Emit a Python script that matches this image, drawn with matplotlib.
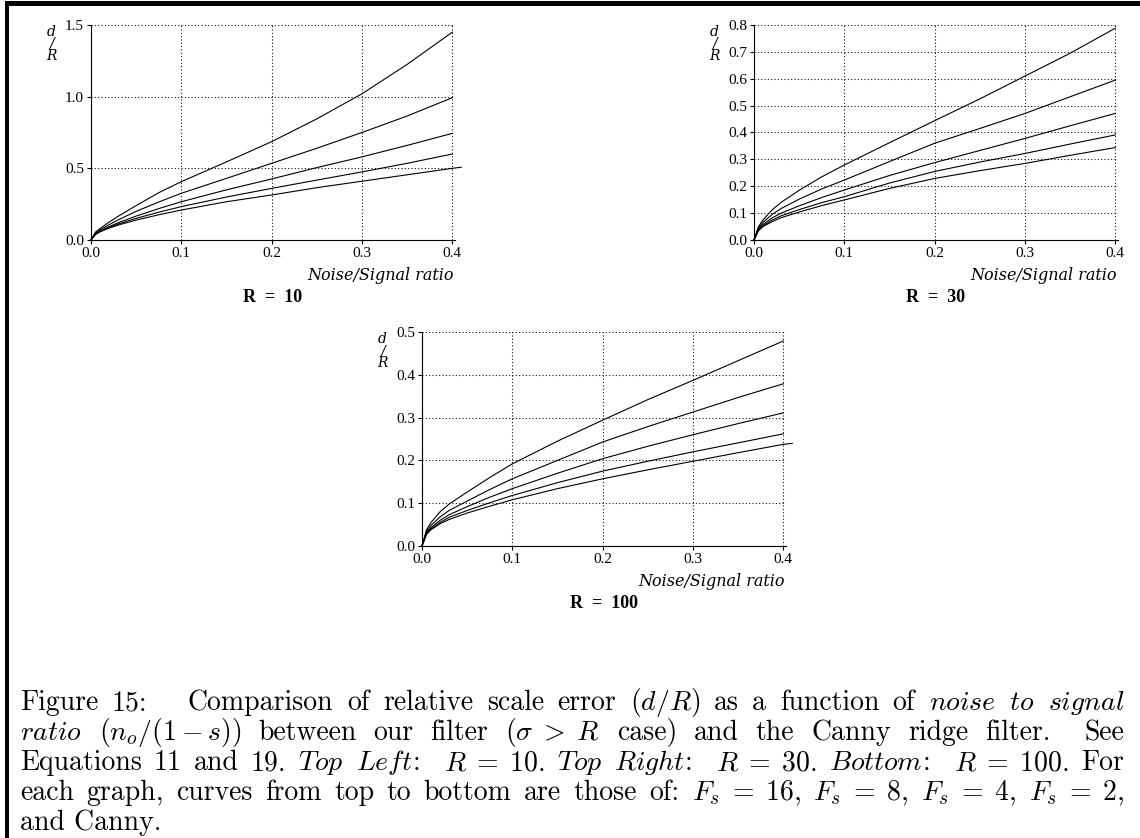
import matplotlib
matplotlib.use('Agg')
import matplotlib.pyplot as plt
from matplotlib.patches import Rectangle
import numpy as np

plt.rcParams['font.family'] = 'Liberation Serif'
plt.rcParams['mathtext.fontset'] = 'cm'

# noise/signal ratio sample points (Canny curve runs a bit past the frame)
noise = [0, 0.005, 0.01, 0.02, 0.03, 0.05, 0.075, 0.1, 0.15, 0.2, 0.25, 0.3, 0.35, 0.4]
noise_ext = noise + [0.41]

# R = 10, curves top to bottom: Fs=16, 8, 4, 2, Canny
r10_fs16 = [0, 0.055, 0.08, 0.125, 0.165, 0.24, 0.33, 0.407, 0.545, 0.686, 0.845, 1.02, 1.225, 1.45]
r10_fs8 = [0, 0.048, 0.07, 0.107, 0.14, 0.2, 0.265, 0.326, 0.43, 0.535, 0.64, 0.75, 0.865, 0.993]
r10_fs4 = [0, 0.042, 0.062, 0.093, 0.12, 0.167, 0.219, 0.267, 0.35, 0.426, 0.505, 0.58, 0.66, 0.744]
r10_fs2 = [0, 0.04, 0.059, 0.088, 0.111, 0.151, 0.194, 0.233, 0.3, 0.36, 0.418, 0.475, 0.535, 0.6]
r10_canny = [0, 0.039, 0.057, 0.083, 0.104, 0.139, 0.176, 0.209, 0.267, 0.314, 0.365, 0.41, 0.455, 0.5, 0.508]

# R = 30
r30_fs16 = [0, 0.05, 0.075, 0.112, 0.14, 0.185, 0.235, 0.279, 0.362, 0.444, 0.525, 0.61, 0.695, 0.788]
r30_fs8 = [0, 0.045, 0.066, 0.095, 0.117, 0.152, 0.19, 0.223, 0.292, 0.36, 0.415, 0.471, 0.533, 0.595]
r30_fs4 = [0, 0.04, 0.058, 0.082, 0.1, 0.127, 0.158, 0.186, 0.24, 0.288, 0.333, 0.378, 0.425, 0.471]
r30_fs2 = [0, 0.037, 0.053, 0.074, 0.09, 0.113, 0.139, 0.161, 0.212, 0.255, 0.29, 0.322, 0.357, 0.391]
r30_canny = [0, 0.035, 0.05, 0.068, 0.083, 0.104, 0.128, 0.149, 0.192, 0.229, 0.258, 0.285, 0.315, 0.344]

# R = 100
r100_fs16 = [0, 0.038, 0.055, 0.08, 0.098, 0.126, 0.16, 0.192, 0.245, 0.294, 0.342, 0.387, 0.433, 0.479]
r100_fs8 = [0, 0.034, 0.048, 0.068, 0.083, 0.105, 0.132, 0.157, 0.2, 0.243, 0.279, 0.313, 0.347, 0.379]
r100_fs4 = [0, 0.031, 0.043, 0.06, 0.073, 0.092, 0.114, 0.134, 0.17, 0.204, 0.233, 0.26, 0.286, 0.311]
r100_fs2 = [0, 0.029, 0.04, 0.055, 0.067, 0.083, 0.101, 0.118, 0.148, 0.175, 0.198, 0.22, 0.241, 0.262]
r100_canny = [0, 0.027, 0.038, 0.052, 0.062, 0.077, 0.093, 0.108, 0.134, 0.157, 0.178, 0.198, 0.218, 0.2375, 0.24]

x_ticks = [0.0, 0.1, 0.2, 0.3, 0.4]
r10_yticks = [0.0, 0.5, 1.0, 1.5]
r30_yticks = [0.0, 0.1, 0.2, 0.3, 0.4, 0.5, 0.6, 0.7, 0.8]
r100_yticks = [0.0, 0.1, 0.2, 0.3, 0.4, 0.5]

caption_lines = [
    ["Figure", "15:", "", "", "Comparison", "of", "relative", "scale", "error", r"$(d/R)$", "as", "a",
     "function", "of", r"$\mathit{noise}$", r"$\mathit{to}$", r"$\mathit{signal}$"],
    [r"$\mathit{ratio}$", r"$(n_o/(1-s))$", "between", "our", "filter", r"$(\sigma\;>\;R$", "case)",
     "and", "the", "Canny", "ridge", "filter.", "", "See"],
    ["Equations", "11", "and", "19.", r"$\mathit{Top}$", r"$\mathit{Left\!:}$", "", r"$R\;=\;10$.",
     r"$\mathit{Top}$", r"$\mathit{Right\!:}$", "", r"$R\;=\;30$.", r"$\mathit{Bottom\!:}$", "",
     r"$R\;=\;100$.", "For"],
    ["each", "graph,", "curves", "from", "top", "to", "bottom", "are", "those", "of:",
     r"$F_s\;=\;16$,", r"$F_s\;=\;8$,", r"$F_s\;=\;4$,", r"$F_s\;=\;2$,"],
    ["and Canny."],
]

W, H = 1140, 838
fig = plt.figure(figsize=(W / 100, H / 100), dpi=100)


def box(l, t, r, b):
    return [l / W, 1 - b / H, (r - l) / W, (b - t) / H]


def panel(rect, xs, curves, yticks, title):
    ax = fig.add_axes(rect)
    for x, y in zip(xs, curves):
        ax.plot(x, y, color='black', lw=0.8, clip_on=False)
    ax.set_xlim(0, 0.403)
    ax.set_ylim(0, yticks[-1])
    ax.set_xticks(x_ticks)
    ax.set_xticklabels(['%.1f' % v for v in x_ticks])
    ax.set_yticks(yticks)
    ax.set_yticklabels(['%.1f' % v for v in yticks])
    ax.grid(True, color='black', lw=0.75, linestyle=(0, (1, 2.2)))
    ax.set_axisbelow(True)
    for s in ['top', 'right']:
        ax.spines[s].set_visible(False)
    for s in ['left', 'bottom']:
        ax.spines[s].set_linewidth(0.8)
    ax.tick_params(direction='out', length=3, width=0.8, labelsize=11, pad=2)
    ax.annotate('Noise/Signal ratio', xy=(1, 0), xycoords='axes fraction',
                xytext=(-1, -35 * 0.72), textcoords='offset points',
                ha='right', va='center', fontsize=11.5, style='italic', family='DejaVu Serif')
    ax.annotate(title, xy=(0.5, 0), xycoords='axes fraction',
                xytext=(0, -58 * 0.72), textcoords='offset points',
                ha='center', va='center', fontsize=13, fontweight='bold')
    for ch, dy in [('d', -7), ('/', -19), ('R', -31)]:
        ax.annotate(ch, xy=(0, 1), xycoords='axes fraction',
                    xytext=(-40 * 0.72, dy * 0.72), textcoords='offset points',
                    ha='center', va='center', fontsize=10, style='italic', family='DejaVu Serif')
    return ax


panel(box(91, 25, 455, 240), [noise, noise, noise, noise, noise_ext],
      [r10_fs16, r10_fs8, r10_fs4, r10_fs2, r10_canny], r10_yticks, 'R  =  10')
panel(box(754, 25, 1118, 240), [noise] * 5,
      [r30_fs16, r30_fs8, r30_fs4, r30_fs2, r30_canny], r30_yticks, 'R  =  30')
panel(box(422, 332, 786, 546), [noise, noise, noise, noise, noise_ext],
      [r100_fs16, r100_fs8, r100_fs4, r100_fs2, r100_canny], r100_yticks, 'R  =  100')

# page frame (top and left edge of the scanned box)
fig.add_artist(Rectangle((5 / W, 1 - 6 / H), 1, 5 / H, transform=fig.transFigure,
                         color='black', lw=0))
fig.add_artist(Rectangle((5 / W, 0), 4 / W, 1 - 1 / H, transform=fig.transFigure,
                         color='black', lw=0))

# justified caption
fig.canvas.draw()
renderer = fig.canvas.get_renderer()
cap_left, cap_right = 20, 1124
baselines = [710, 740, 770, 800, 830]
for i, tokens in enumerate(caption_lines):
    yb = 1 - baselines[i] / H
    words, weights = [], []
    pending = 0
    for tok in tokens:
        if tok == "":
            pending += 1
            continue
        weights.append(pending + 1 if words else 0)
        words.append(tok)
        pending = 0
    texts = [fig.text(0, yb, w, fontsize=20, family='cmr10', ha='left', va='baseline')
             for w in words]
    widths = [t.get_window_extent(renderer).width for t in texts]
    if len(words) > 1:
        gap = (cap_right - cap_left - sum(widths)) / sum(weights)
    else:
        gap = 0
    x = cap_left
    for t, w, wt in zip(texts, widths, weights):
        x += wt * gap
        t.set_x(x / W)
        x += w

fig.savefig('out.png', dpi=100)
